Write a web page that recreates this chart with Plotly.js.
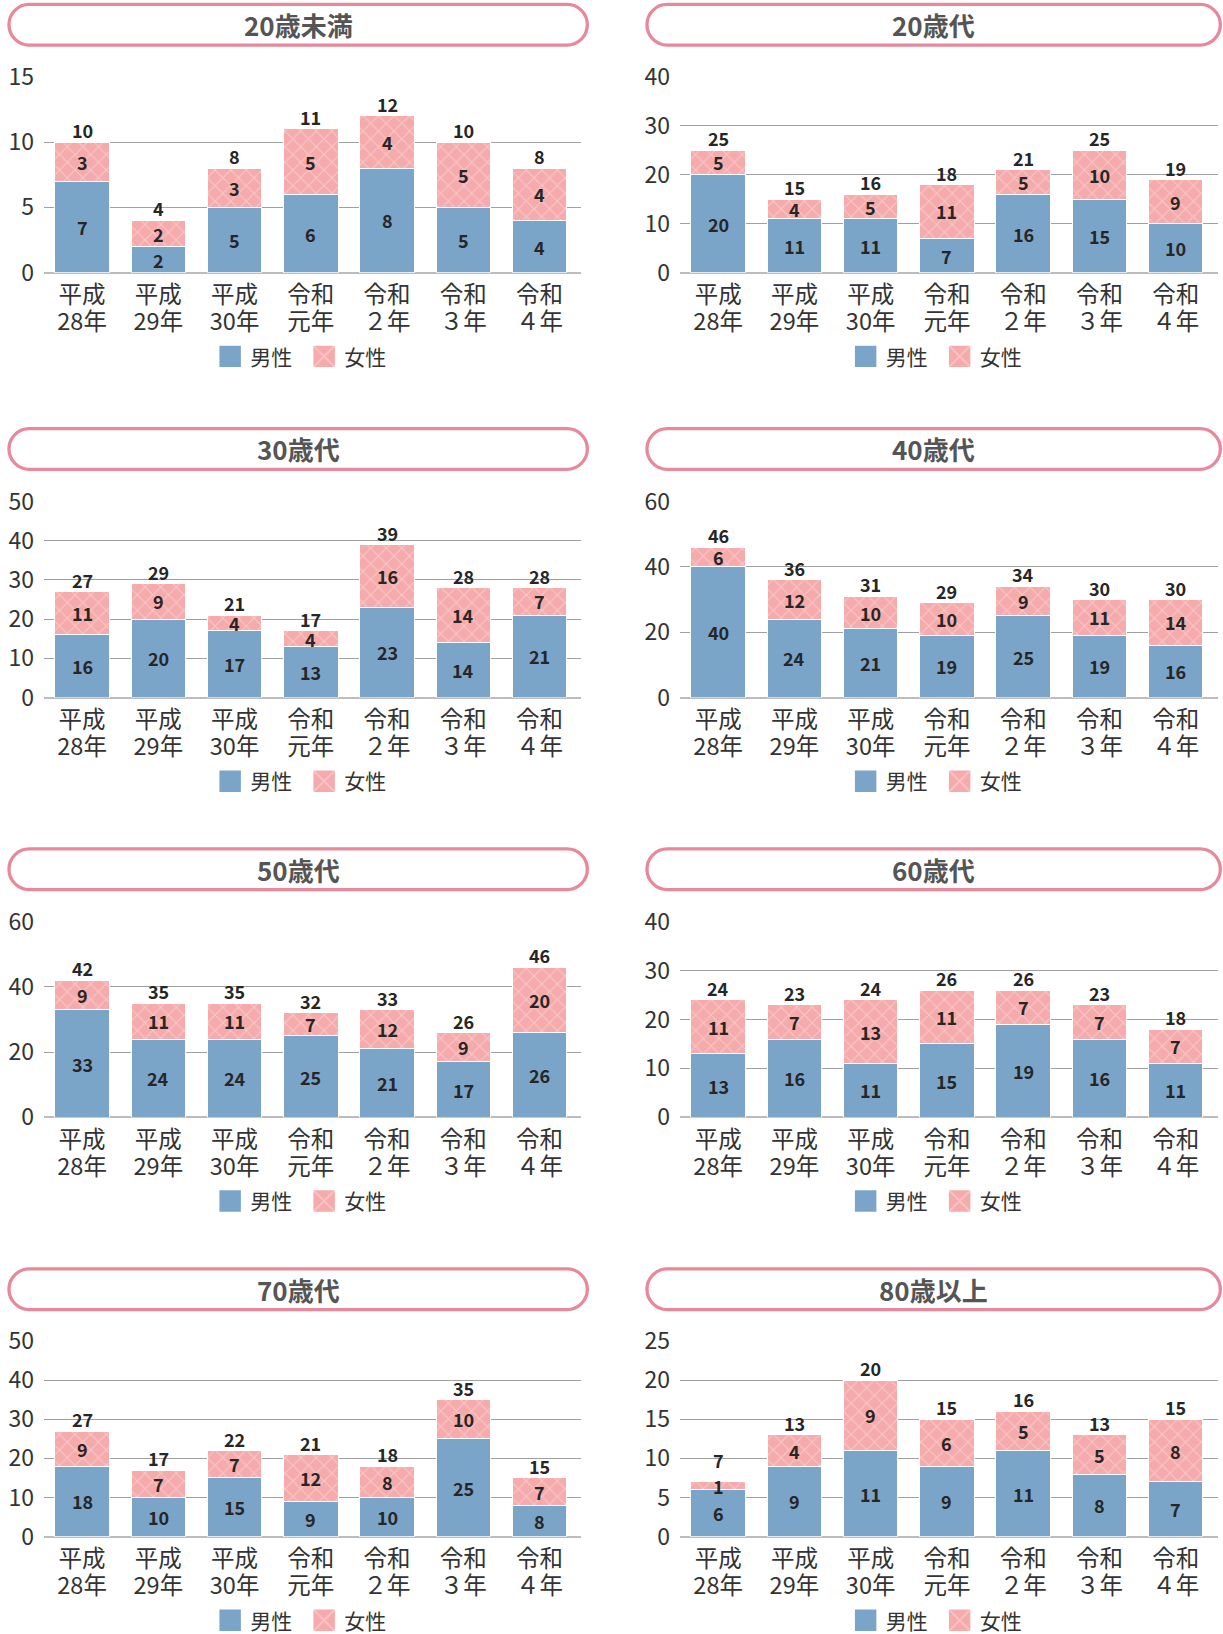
<!DOCTYPE html>
<html>
<head>
<meta charset="utf-8">
<script src="https://cdn.plot.ly/plotly-3.0.1.min.js"></script>
<style>
  html, body { margin: 0; padding: 0; background: #ffffff; overflow: hidden; }
  #chart { width: 1223px; height: 1634px; }
</style>
</head>
<body>
<div id="chart"></div>
<script>
// ---- data -------------------------------------------------------------
// category labels are written on two lines: era name, then year
const categoryEra = ['平成', '平成', '平成', '令和', '令和', '令和', '令和'];
const categoryYear = ['28年', '29年', '30年', '元年', '２年', '３年', '４年'];
const ageGroups = ['20歳未満', '20歳代', '30歳代', '40歳代', '50歳代', '60歳代', '70歳代', '80歳以上'];
const seriesNames = ['男性', '女性'];

const maleUnder20 = [7, 2, 5, 6, 8, 5, 4];
const femaleUnder20 = [3, 2, 3, 5, 4, 5, 4];
const male20s = [20, 11, 11, 7, 16, 15, 10];
const female20s = [5, 4, 5, 11, 5, 10, 9];
const male30s = [16, 20, 17, 13, 23, 14, 21];
const female30s = [11, 9, 4, 4, 16, 14, 7];
const male40s = [40, 24, 21, 19, 25, 19, 16];
const female40s = [6, 12, 10, 10, 9, 11, 14];
const male50s = [33, 24, 24, 25, 21, 17, 26];
const female50s = [9, 11, 11, 7, 12, 9, 20];
const male60s = [13, 16, 11, 15, 19, 16, 11];
const female60s = [11, 7, 13, 11, 7, 7, 7];
const male70s = [18, 10, 15, 9, 10, 25, 8];
const female70s = [9, 7, 7, 12, 8, 10, 7];
const male80plus = [6, 9, 11, 9, 11, 8, 7];
const female80plus = [1, 4, 9, 6, 5, 5, 8];

const maleSeries = [maleUnder20, male20s, male30s, male40s, male50s, male60s, male70s, male80plus];
const femaleSeries = [femaleUnder20, female20s, female30s, female40s, female50s, female60s, female70s, female80plus];

// y axis tick settings per age group
const yAxisMax = [15, 40, 50, 60, 60, 40, 50, 25];
const yAxisStep = [5, 10, 10, 20, 20, 10, 10, 5];

// ---- page geometry (px) -----------------------------------------------
const W = 1223, H = 1634;
const FONT = '"Noto Sans CJK JP", "Noto Sans", sans-serif';
const COLS = [
  { plotL: 44, plotR: 581, boxL: 7.3, boxR: 589 },
  { plotL: 680, plotR: 1218, boxL: 645.3, boxR: 1222 }
];
const ROWS = [
  { boxT: 2.7, top: 76.7, zero: 272.7 },
  { boxT: 427, top: 501.5, zero: 697.5 },
  { boxT: 847.3, top: 921.7, zero: 1117.3 },
  { boxT: 1267.3, top: 1341, zero: 1536.7 }
];
const BOX_H = 44;
const BOX_LINE = 3.3;
const PITCH = 76.25;      // px between category centres
const LEGEND_DROP = 84;   // legend centre below the zero line
const TICK_GAP = 6;       // first tick-label line below the zero line
const TICK_LINE = 27;     // distance between the two tick-label lines

const BLUE = '#7ba4c9';
const PINK = '#f5aaab';
const PINK_LINE = '#fde2e2';
const FRAME = '#e8889c';

const px = x => x / W;
const py = y => 1 - y / H;
const positions = categoryEra.map((_, j) => j);

// stadium-shaped frame around each group title, built from cubic curves
function stadiumPath(L, R, T, B) {
  const r = (B - T) / 2, ym = (T + B) / 2, k = 0.5523 * r;
  const P = (x, y) => `${px(x)},${py(y)}`;
  return `M${P(L + r, T)} L${P(R - r, T)} ` +
    `C${P(R - r + k, T)} ${P(R, ym - k)} ${P(R, ym)} ` +
    `C${P(R, ym + k)} ${P(R - r + k, B)} ${P(R - r, B)} ` +
    `L${P(L + r, B)} ` +
    `C${P(L + r - k, B)} ${P(L, ym + k)} ${P(L, ym)} ` +
    `C${P(L, ym - k)} ${P(L + r - k, T)} ${P(L + r, T)} Z`;
}

const data = [];
const layout = {
  width: W,
  height: H,
  margin: { l: 0, r: 0, t: 0, b: 0, autoexpand: false },
  paper_bgcolor: '#ffffff',
  plot_bgcolor: 'rgba(0,0,0,0)',
  barmode: 'stack',
  bargap: 0.283,
  font: { family: FONT, color: '#333333' },
  shapes: [],
  annotations: []
};

const tickFont = { family: FONT, size: 23.5, color: '#333333' };

ageGroups.forEach((group, i) => {
  const row = ROWS[Math.floor(i / 2)];
  const col = COLS[i % 2];
  const n = i === 0 ? '' : String(i + 1);
  const xName = 'x' + n, yName = 'y' + n;
  const x2Num = String(i + 9);            // companion axis for the year line
  const legendId = 'legend' + n;
  const male = maleSeries[i];
  const female = femaleSeries[i];
  const xRange = [-0.5, -0.5 + (col.plotR - col.plotL) / PITCH];

  layout['xaxis' + n] = {
    domain: [px(col.plotL), px(col.plotR)],
    anchor: yName,
    range: xRange,
    tickmode: 'array',
    tickvals: positions,
    ticktext: categoryEra,
    showgrid: false,
    zeroline: false,
    showline: false,
    ticks: '',
    ticklabelstandoff: TICK_GAP,
    tickfont: tickFont,
    fixedrange: true
  };
  layout['xaxis' + x2Num] = {
    overlaying: xName,
    anchor: yName,
    side: 'bottom',
    range: xRange,
    tickmode: 'array',
    tickvals: positions,
    ticktext: categoryYear,
    showgrid: false,
    zeroline: false,
    showline: false,
    ticks: '',
    ticklabelstandoff: TICK_GAP + TICK_LINE,
    tickfont: tickFont,
    fixedrange: true
  };
  layout['yaxis' + n] = {
    domain: [py(row.zero), py(row.top)],
    anchor: xName,
    range: [0, yAxisMax[i]],
    tick0: 0,
    dtick: yAxisStep[i],
    showgrid: true,
    gridcolor: '#a0a0a0',
    gridwidth: 1,
    zeroline: true,
    zerolinecolor: '#bcbcbc',
    zerolinewidth: 2,
    showline: false,
    ticks: '',
    ticklabelstandoff: 9,
    tickfont: { family: FONT, size: 23, color: '#333333' },
    fixedrange: true
  };

  data.push({
    type: 'bar', name: seriesNames[0], x: positions, y: male,
    xaxis: xName, yaxis: yName, legend: legendId,
    marker: { color: BLUE, line: { color: '#ffffff', width: 1 } },
    hoverinfo: 'skip'
  });
  data.push({
    type: 'bar', name: seriesNames[1], x: positions, y: female,
    xaxis: xName, yaxis: yName, legend: legendId,
    marker: {
      color: PINK,
      line: { color: '#ffffff', width: 1 },
      pattern: { shape: 'x', size: 11, solidity: 0.2, fgcolor: PINK_LINE, fillmode: 'overlay' }
    },
    hoverinfo: 'skip'
  });
  // empty companion trace so the year-line axis is laid out with its subplot
  data.push({
    type: 'scatter', mode: 'markers', x: [], y: [],
    xaxis: 'x' + x2Num, yaxis: yName,
    showlegend: false, hoverinfo: 'skip'
  });

  layout[legendId] = {
    orientation: 'h',
    x: px((col.boxL + col.boxR) / 2 + 6),
    xanchor: 'center',
    y: py(row.zero + LEGEND_DROP),
    yanchor: 'middle',
    bgcolor: 'rgba(0,0,0,0)',
    font: { family: FONT, size: 21, color: '#333333' },
    traceorder: 'normal',
    entrywidth: 49,
    entrywidthmode: 'pixels',
    itemclick: false,
    itemdoubleclick: false
  };

  // title frame + title
  layout.shapes.push({
    type: 'path', xref: 'paper', yref: 'paper',
    path: stadiumPath(col.boxL + BOX_LINE / 2, col.boxR - BOX_LINE / 2,
                      row.boxT + BOX_LINE / 2, row.boxT + BOX_H - BOX_LINE / 2),
    line: { color: FRAME, width: BOX_LINE },
    fillcolor: '#ffffff',
    layer: 'below'
  });
  layout.annotations.push({
    xref: 'paper', yref: 'paper',
    x: px((col.boxL + col.boxR) / 2), y: py(row.boxT + BOX_H / 2),
    xanchor: 'center', yanchor: 'middle',
    text: group, showarrow: false,
    font: { family: FONT, size: 26, weight: 700, color: '#555555' }
  });

  // value labels: male / female inside each segment, total above the bar
  const unitPx = (row.zero - row.top) / yAxisMax[i];
  const labelFont = { family: FONT, size: 18, weight: 700, color: '#262626' };
  male.forEach((m, j) => {
    const f = female[j];
    const total = m + f;
    layout.annotations.push({
      xref: xName, yref: yName, x: positions[j], y: m / 2,
      text: String(m), showarrow: false, font: labelFont,
      xanchor: 'center', yanchor: 'middle'
    });
    layout.annotations.push({
      xref: xName, yref: yName, x: positions[j], y: m + f / 2,
      text: String(f), showarrow: false, font: labelFont,
      xanchor: 'center', yanchor: 'middle'
    });
    // a very thin top segment has its label sitting on the bar top,
    // so the total is raised clear of it
    const segPx = f * unitPx;
    const lift = 12 + (segPx < 12 ? 18 - segPx : 0);
    layout.annotations.push({
      xref: xName, yref: yName, x: positions[j], y: total,
      text: String(total), showarrow: false, font: labelFont,
      xanchor: 'center', yanchor: 'middle', yshift: lift
    });
  });
});

Plotly.newPlot('chart', data, layout, { staticPlot: true, displayModeBar: false }).then(gd => {
  // enlarge the legend swatches to match the label size
  gd.querySelectorAll('.legendpoints path').forEach(p => {
    p.setAttribute('transform', 'translate(20,0) scale(1.95)');
  });
});
</script>
</body>
</html>
